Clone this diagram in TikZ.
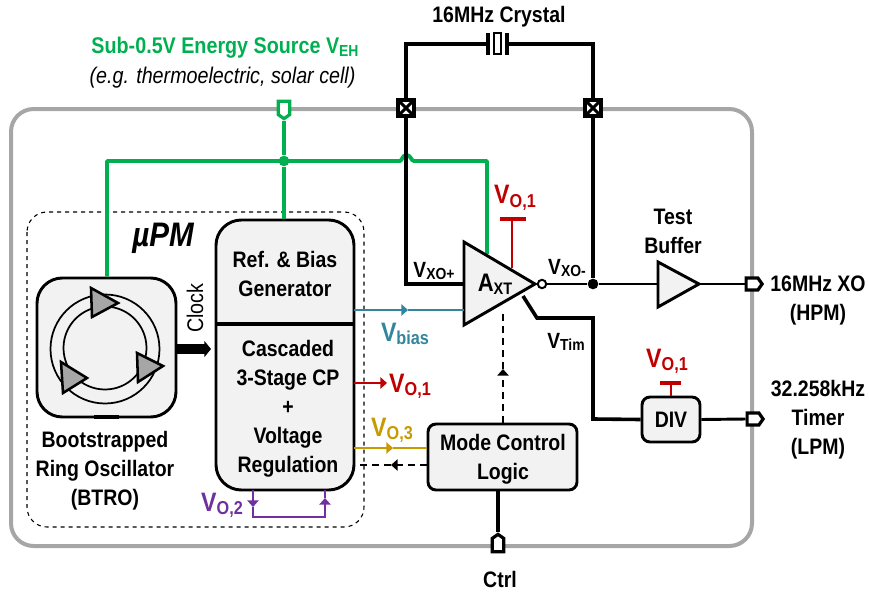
\documentclass[tikz,border=0pt]{standalone}
\usepackage{fontspec}
\setmainfont{Liberation Sans}[FakeStretch=0.87]
\usetikzlibrary{arrows.meta,shapes.symbols}
\definecolor{gEH}{HTML}{00B050}
\definecolor{rVO}{HTML}{C00000}
\definecolor{tBias}{HTML}{31859C}
\definecolor{yVO}{HTML}{C79A00}
\definecolor{pVO}{HTML}{7030A0}
\definecolor{blkFill}{HTML}{F2F2F2}
\def\px{0.75pt}
\newcommand{\bigV}[1]{\fontsize{20}{20}\selectfont V\raisebox{-2.6pt}{\fontsize{14}{14}\selectfont #1}}
\newcommand{\smallV}[1]{\fontsize{16.5}{16.5}\selectfont V\raisebox{-2pt}{\fontsize{12}{12}\selectfont #1}}
\tikzset{
	lbl/.style = {font=\bfseries\fontsize{16.8}{21.75}\selectfont, align=center, inner sep=0pt},
	blk/.style = {draw, line width=2.2pt, fill=blkFill, rounded corners=#1, inner sep=0pt},
	blk/.default = 6pt,
	wire/.style = {line width=2.7pt},
	thinwire/.style = {line width=2.2pt},
	tip/.style = {-{Triangle[length=5pt,width=8.5pt]}, line width=1.5pt},
	backtip/.style = {-{Triangle[length=5pt,width=8.5pt]}, line width=1.2pt, dash pattern=on 5pt off 4pt},
	pad/.style = {draw, line width=2.4pt, fill=white, shape=signal, signal from=nowhere, signal pointer angle=110, inner sep=0pt},
	hpad/.style = {pad, signal to=east, minimum width=12pt, minimum height=9pt},
	vpad/.style = {pad, minimum width=8.5pt, minimum height=10pt},
	xpad/.style = {draw, line width=2.6pt, fill=white, minimum size=12pt, inner sep=0pt,
		path picture={\draw[line width=2.2pt] (path picture bounding box.north west) -- (path picture bounding box.south east)
			(path picture bounding box.north east) -- (path picture bounding box.south west);}},
	dot/.style = {circle, fill, inner sep=0pt, minimum size=8pt},
	bar/.style = {line width=3pt},
	ringtri/.style = {draw, line width=1.9pt, fill=black!35},
}
\begin{document}
\begin{tikzpicture}[x=\px, y=-\px]
	\useasboundingbox (0,0) rectangle (869,593);
	% chip outline
	\draw[line width=3pt, black!35, rounded corners=17pt] (11,109) rectangle (752,546);
	\draw[dashed, line width=0.8pt, rounded corners=15pt] (27,212) rectangle (364,527);
	% blocks
	\node[blk=19pt, minimum width={139*\px}, minimum height={139*\px}] (btro) at (106.5,347.5) {};
	\node[blk=19pt, minimum width={138*\px}, minimum height={270*\px}] (cp) at (285,355) {};
	\node[blk, minimum width={149*\px}, minimum height={66*\px}] (mode) at (502.5,457) {};
	\node[blk, minimum width={58*\px}, minimum height={45*\px}] (div) at (671,419.5) {};
	\draw[wire] (cp.west |- 0,324) -- (cp.east |- 0,324);
	\draw[line width=3pt] (94,417) -- (119,417);
	% ring
	\draw[line width=1.3pt] (105,349) circle[radius=54.5];
	\draw[line width=1.3pt] (105,348) circle[radius=41.5];
	\draw[ringtri] (91,288) -- (118,303) -- (92,317) -- cycle;
	\draw[ringtri] (137,353) -- (163,366) -- (138,382) -- cycle;
	\draw[ringtri] (61,362) -- (87,378) -- (63,393) -- cycle;
	% amplifiers
	\coordinate (axtTop) at (464,242);
	\coordinate (axtTip) at (535,284);
	\coordinate (axtBot) at (464,325);
	\coordinate (bufTop) at (658,262);
	\coordinate (bufTip) at (699,284);
	\coordinate (bufBot) at (658,307);
	\coordinate (axtIn) at (464,284);
	\coordinate (bufIn) at (658,284);
	\coordinate (biasIn) at (464,310);
	% pads
	\node[xpad] (xoP) at (406,108) {};
	\node[xpad] (xoM) at (593,108) {};
	\node[vpad, draw=gEH, signal to=south] (ehPad) at (284,108) {};
	\node[hpad] (xoOut) at (752,284) {};
	\node[hpad] (timOut) at (753,419) {};
	\node[vpad, signal to=north] (ctrlPad) at (498,545) {};
	% crystal
	\coordinate (xtalL) at (488,44);
	\coordinate (xtalR) at (507,44);
	\draw[wire] (xoP.north) -- (406,44) -- (xtalL);
	\draw[wire] (xoM.north) -- (593,44) -- (xtalR);
	\draw[wire] (488,33) -- (488,55) (507,33) -- (507,55);
	\draw[line width=1.5pt] (494,33) rectangle (501,54);
	% energy source rail
	\node[dot, gEH] (ehDot) at (284,161) {};
	\draw[line width=2.9pt, gEH] (ehPad.south) -- (ehDot) -- (cp.north -| ehDot);
	\draw[line width=2.9pt, gEH, line join=round] (btro.north -| 107,0) -- (107,161) -- (400,161)
		.. controls (402,161) and (402,155) .. (406.5,155)
		.. controls (411,155) and (411,161) .. (414,161) -- (487,161) -- (487,254);
	% crystal amplifier
	\draw[wire] (xoP.south) -- (406,284) -- (axtIn);
	\draw[blk=0pt] (axtTop) -- (axtTip) -- (axtBot) -- cycle;
	\draw[line width=1.5pt, fill=white] (542,284) circle[radius=4.2];
	\node[dot] (xoDot) at (593,284) {};
	\draw[wire] (xoM.south) -- (xoDot);
	\draw[thinwire] (546,284) -- (xoDot) -- (bufIn);
	\draw[blk=0pt] (bufTop) -- (bufTip) -- (bufBot) -- cycle;
	\draw[thinwire] (bufTip) -- (xoOut.west);
	\draw[wire, line join=miter] (523,296) -- (537,318) -- (593,318) -- (593,419) -- (div.west);
	\draw[thinwire] (div.east) -- (timOut.west);
	\draw[wire] (mode.south -| ctrlPad) -- (ctrlPad.north);
	% supplies
	\coordinate (axtVdd) at (512,219);
	\coordinate (divVdd) at (671,383);
	\draw[rVO, line width=2pt] (axtVdd) -- (512,268);
	\draw[rVO, bar] (500,219) -- (526,219);
	\draw[rVO, line width=2pt] (divVdd) -- (div.north);
	\draw[rVO, bar] (660,383) -- (681,383);
	% clock
	\draw[line width=7.5pt, -{Triangle[length=5pt,width=12pt,sep=0pt]}] (btro.east |- 0,349) -- (211,349);
	% outputs of the CP
	\coordinate (cpBias) at (354,310);
	\coordinate (cpO1) at (354,383);
	\coordinate (cpO3) at (354,448);
	\draw[tBias, tip] (cpBias) -- (408,310);
	\draw[tBias, line width=1.5pt] (408,310) -- (biasIn);
	\draw[rVO, tip] (cpO1) -- (387,383);
	\draw[yVO, tip] (cpO3) -- (393,448);
	\draw[yVO, line width=1.5pt] (393,448) -- (mode.west |- 0,448);
	\draw[backtip] (mode.west |- 0,465) -- (391,465);
	\draw[line width=1.2pt, dash pattern=on 5pt off 4pt] (391,465) -- (358,465);
	\draw[backtip] (mode.north -| 503,0) -- (503,369);
	\draw[line width=1.2pt, dash pattern=on 5pt off 4pt] (503,369) -- (503,312);
	% charge pump feedback
	\draw[pVO, tip] (253,490) -- (253,507);
	\draw[pVO, line width=1.5pt] (253,507) -- (253,517) -- (325,517) -- (325,502);
	\draw[pVO, tip] (325,517) -- (325,498);
	\draw[pVO, line width=1.5pt] (325,498) -- (325,490);
	% texts
	\node[lbl, gEH, font=\bfseries\fontsize{17}{21.75}\selectfont] (srcLbl) at (225,48) {Sub-0.5V Energy Source V\raisebox{-2pt}{\fontsize{12}{12}\selectfont EH}};
	\node[lbl, font=\itshape\fontsize{17}{18}\selectfont] (srcNote) at (222.5,78) {(e.g. thermoelectric, solar cell)};
	\node[lbl] (xtalLbl) at (499,17) {16MHz Crystal};
	\node[lbl, font=\bfseries\itshape\fontsize{25.5}{25.5}\selectfont] (upm) at (163,238) {µPM};
	\node[lbl] (btroLbl) at (105,471) {Bootstrapped\\Ring Oscillator\\(BTRO)};
	\node[lbl] (refLbl) at (285,274) {Ref. \& Bias\\Generator};
	\node[lbl] (cpLbl) at (288,409) {Cascaded\\3-Stage CP\\+\\Voltage\\Regulation};
	\node[lbl, font=\fontsize{17}{18}\selectfont, rotate=90] (clkLbl) at (195,308) {Clock};
	\node[lbl] (modeLbl) at (503,459) {Mode Control\\Logic};
	\node[lbl] (divLbl) at (div) {DIV};
	\node[lbl] (axtLbl) at (495,284) {\fontsize{19}{19}\selectfont A\raisebox{-2.2pt}{\fontsize{12.5}{12.5}\selectfont XT}};
	\node[lbl] (vxp) at (434,271) {\smallV{XO+}};
	\node[lbl] (vxm) at (567,268) {\smallV{XO-}};
	\node[lbl] (vtim) at (566,342) {\smallV{Tim}};
	\node[lbl, rVO] (vo1a) at (515,198) {\bigV{O,1}};
	\node[lbl, rVO] (vo1b) at (667,361) {\bigV{O,1}};
	\node[lbl, rVO] (vo1c) at (410,386) {\bigV{O,1}};
	\node[lbl, tBias] (vbias) at (405,334) {\bigV{bias}};
	\node[lbl, yVO] (vo3) at (392,430) {\bigV{O,3}};
	\node[lbl, pVO] (vo2) at (222,505) {\bigV{O,2}};
	\node[lbl] (testLbl) at (673,231.5) {Test\\Buffer};
	\node[lbl] (xoLbl) at (818,300) {16MHz XO\\(HPM)};
	\node[lbl] (timLbl) at (818,420) {32.258kHz\\Timer\\(LPM)};
	\node[lbl] (ctrlLbl) at (500,579) {Ctrl};
\end{tikzpicture}
\end{document}
